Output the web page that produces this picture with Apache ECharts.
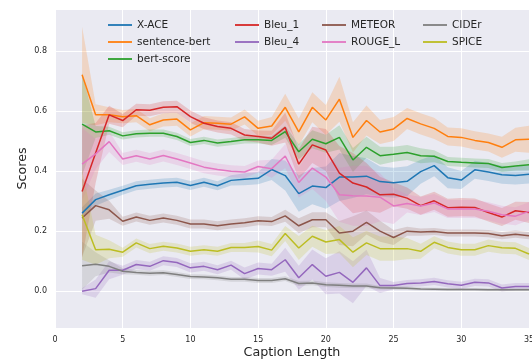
<!DOCTYPE html>
<html>
<head>
<meta charset="utf-8">
<script src="https://cdn.jsdelivr.net/npm/echarts@6/dist/echarts.min.js"></script>
<style>html,body{margin:0;padding:0;background:#fff}#c{width:532px;height:360px}</style>
</head>
<body>
<div id="c"></div>
<script>
var xs = [2,3,4,5,6,7,8,9,10,11,12,13,14,15,16,17,18,19,20,21,22,23,24,25,26,27,28,29,30,31,32,33,34,35];
var xTicks = [0,5,10,15,20,25,30,35];
var yTicks = [0.0,0.2,0.4,0.6,0.8];

var xace   = [0.26,0.305,0.321,0.336,0.351,0.356,0.36,0.363,0.352,0.363,0.351,0.369,0.373,0.376,0.405,0.385,0.325,0.35,0.345,0.38,0.38,0.383,0.365,0.361,0.366,0.398,0.418,0.378,0.37,0.404,0.397,0.388,0.385,0.389];
var sbert  = [0.72,0.587,0.587,0.581,0.584,0.554,0.57,0.573,0.537,0.561,0.559,0.556,0.58,0.542,0.55,0.612,0.53,0.612,0.57,0.639,0.512,0.568,0.53,0.54,0.575,0.557,0.542,0.515,0.512,0.502,0.495,0.479,0.504,0.506];
var bert   = [0.556,0.53,0.534,0.517,0.524,0.526,0.526,0.515,0.495,0.502,0.493,0.498,0.504,0.504,0.502,0.531,0.464,0.506,0.491,0.512,0.437,0.479,0.451,0.456,0.462,0.451,0.449,0.432,0.429,0.427,0.425,0.412,0.417,0.421];
var bleu1  = [0.332,0.46,0.587,0.568,0.604,0.602,0.612,0.614,0.581,0.559,0.548,0.542,0.52,0.515,0.509,0.545,0.423,0.487,0.47,0.393,0.36,0.347,0.321,0.323,0.31,0.285,0.301,0.278,0.28,0.279,0.262,0.247,0.268,0.262];
var bleu4  = [0.0,0.009,0.07,0.07,0.089,0.083,0.102,0.096,0.078,0.083,0.072,0.087,0.059,0.076,0.072,0.105,0.045,0.089,0.05,0.063,0.03,0.078,0.019,0.019,0.026,0.028,0.033,0.025,0.02,0.03,0.028,0.011,0.016,0.016];
var meteor = [0.244,0.285,0.271,0.233,0.247,0.236,0.244,0.236,0.224,0.224,0.218,0.224,0.228,0.235,0.232,0.251,0.218,0.238,0.238,0.194,0.2,0.229,0.2,0.179,0.2,0.197,0.199,0.194,0.194,0.194,0.192,0.185,0.19,0.185];
var rouge  = [0.423,0.457,0.498,0.44,0.451,0.44,0.452,0.44,0.427,0.413,0.405,0.399,0.397,0.415,0.408,0.45,0.362,0.41,0.38,0.321,0.318,0.317,0.313,0.284,0.292,0.284,0.294,0.274,0.274,0.274,0.266,0.255,0.25,0.266];
var cider  = [0.085,0.09,0.083,0.067,0.063,0.06,0.062,0.056,0.049,0.048,0.045,0.04,0.04,0.036,0.036,0.042,0.026,0.028,0.022,0.02,0.018,0.018,0.012,0.011,0.01,0.008,0.007,0.006,0.006,0.006,0.005,0.005,0.005,0.005];
var spice  = [0.255,0.138,0.14,0.13,0.161,0.142,0.15,0.144,0.133,0.138,0.133,0.146,0.146,0.149,0.137,0.192,0.144,0.183,0.164,0.172,0.13,0.161,0.142,0.142,0.142,0.133,0.163,0.146,0.138,0.138,0.152,0.145,0.143,0.124];

// confidence band half-widths
var xaceCI   = [0.02,0.02,0.017,0.015,0.015,0.015,0.015,0.015,0.015,0.015,0.015,0.017,0.02,0.02,0.035,0.05,0.06,0.06,0.07,0.08,0.07,0.06,0.05,0.05,0.05,0.04,0.035,0.035,0.03,0.03,0.03,0.03,0.03,0.03];
var sbertCI  = [0.16,0.035,0.025,0.022,0.022,0.022,0.022,0.022,0.022,0.022,0.022,0.022,0.025,0.025,0.03,0.045,0.045,0.05,0.05,0.075,0.05,0.05,0.04,0.04,0.035,0.035,0.035,0.03,0.03,0.03,0.03,0.035,0.04,0.045];
var bertCI   = [0.17,0.02,0.013,0.012,0.012,0.012,0.012,0.012,0.012,0.012,0.012,0.012,0.012,0.012,0.015,0.02,0.025,0.03,0.03,0.04,0.04,0.035,0.03,0.025,0.025,0.025,0.02,0.015,0.015,0.015,0.015,0.015,0.015,0.018];
var bleu1CI  = [0.22,0.1,0.03,0.022,0.02,0.02,0.02,0.02,0.02,0.02,0.02,0.02,0.02,0.02,0.025,0.05,0.05,0.06,0.07,0.09,0.1,0.08,0.06,0.04,0.035,0.03,0.03,0.03,0.03,0.03,0.03,0.03,0.03,0.035];
var bleu4CI  = [0.01,0.03,0.03,0.015,0.015,0.015,0.015,0.015,0.015,0.015,0.015,0.015,0.02,0.02,0.02,0.04,0.04,0.05,0.06,0.07,0.07,0.06,0.025,0.012,0.012,0.012,0.012,0.012,0.012,0.012,0.012,0.012,0.012,0.012];
var meteorCI = [0.13,0.05,0.03,0.015,0.015,0.015,0.015,0.015,0.015,0.015,0.015,0.015,0.015,0.015,0.015,0.02,0.025,0.025,0.025,0.04,0.05,0.04,0.035,0.025,0.015,0.012,0.012,0.012,0.012,0.012,0.012,0.012,0.012,0.012];
var rougeCI  = [0.12,0.05,0.035,0.02,0.02,0.02,0.02,0.02,0.02,0.02,0.02,0.02,0.02,0.02,0.03,0.04,0.05,0.07,0.08,0.09,0.1,0.1,0.08,0.06,0.03,0.03,0.03,0.03,0.03,0.03,0.03,0.03,0.03,0.03];
var ciderCI  = [0.08,0.04,0.02,0.01,0.008,0.008,0.008,0.008,0.008,0.008,0.008,0.008,0.008,0.008,0.008,0.008,0.008,0.008,0.008,0.008,0.008,0.008,0.006,0.006,0.006,0.005,0.005,0.005,0.005,0.005,0.005,0.005,0.005,0.005];
var spiceCI  = [0.15,0.05,0.03,0.015,0.015,0.015,0.015,0.015,0.015,0.015,0.015,0.015,0.015,0.02,0.02,0.025,0.04,0.035,0.04,0.045,0.05,0.04,0.04,0.04,0.035,0.025,0.02,0.02,0.02,0.02,0.02,0.02,0.02,0.02];

var seriesDefs = [
  {name:'X-ACE', v:xace, ci:xaceCI, color:'#1f77b4'},
  {name:'sentence-bert', v:sbert, ci:sbertCI, color:'#ff7f0e'},
  {name:'bert-score', v:bert, ci:bertCI, color:'#2ca02c'},
  {name:'Bleu_1', v:bleu1, ci:bleu1CI, color:'#d62728'},
  {name:'Bleu_4', v:bleu4, ci:bleu4CI, color:'#9467bd'},
  {name:'METEOR', v:meteor, ci:meteorCI, color:'#8c564b'},
  {name:'ROUGE_L', v:rouge, ci:rougeCI, color:'#e377c2'},
  {name:'CIDEr', v:cider, ci:ciderCI, color:'#7f7f7f'},
  {name:'SPICE', v:spice, ci:spiceCI, color:'#bcbd22'}
];

var FONT = 'DejaVu Sans';
var TXT = '#262626';
var series = [];
seriesDefs.forEach(function(d){
  var rows = xs.map(function(x,j){ return [x, d.v[j]-d.ci[j], d.v[j]+d.ci[j]]; });
  series.push({
    type:'custom', silent:true, z:1,
    data: rows,
    encode:{x:0, y:[1,2]},
    renderItem:function(params, api){
      if (params.dataIndex !== 0) return null;
      var top = [], bot = [];
      for (var j=0;j<rows.length;j++){
        top.push(api.coord([rows[j][0], rows[j][2]]));
        bot.push(api.coord([rows[j][0], rows[j][1]]));
      }
      var pts = top.concat(bot.reverse());
      return {type:'polygon', shape:{points:pts}, style:{fill:d.color, opacity:0.2}};
    }
  });
});
seriesDefs.forEach(function(d){
  series.push({
    name:d.name, type:'line', symbol:'none', z:3, color:d.color,
    lineStyle:{width:1.5, color:d.color},
    data: xs.map(function(x,j){return [x, d.v[j]];})
  });
});

function legendAt(left, names){
  return {
    orient:'vertical', left:left, top:13, itemWidth:24, itemHeight:1.8, itemGap:3, icon:'rect',
    data:names, textStyle:{fontFamily:FONT, fontSize:10.5, color:TXT, lineHeight:14}
  };
}

var chart = echarts.init(document.getElementById('c'), null, {renderer:'canvas'});
chart.setOption({
  animation:false,
  backgroundColor:'#ffffff',
  grid:{left:55, right:3, top:9, bottom:32, show:true, backgroundColor:'#EAEAF2', borderWidth:0,
        containLabel:false, outerBoundsMode:'none'},
  legend:[
    legendAt(103, ['X-ACE','sentence-bert','bert-score']),
    legendAt(230, ['Bleu_1','Bleu_4']),
    legendAt(317, ['METEOR','ROUGE_L']),
    legendAt(418, ['CIDEr','SPICE'])
  ],
  xAxis:{
    type:'value', min:0, max:35, interval:5,
    name:'Caption Length', nameLocation:'middle', nameGap:18, nameMoveOverlap:false,
    nameTextStyle:{fontFamily:FONT, fontSize:12.7, color:TXT},
    axisLine:{show:false}, axisTick:{show:false},
    axisLabel:{fontFamily:FONT, fontSize:8, color:TXT, margin:8,
      formatter:function(v){return xTicks.indexOf(v)>=0 ? String(v) : '';}},
    splitLine:{show:true, lineStyle:{color:'#ffffff', width:1}}
  },
  yAxis:{
    type:'value', min:-0.122, max:0.939, splitNumber:5,
    name:'Scores', nameLocation:'middle', nameGap:26, nameMoveOverlap:false,
    nameTextStyle:{fontFamily:FONT, fontSize:12.7, color:TXT},
    axisLine:{show:false}, axisTick:{show:false},
    axisLabel:{fontFamily:FONT, fontSize:8, color:TXT, margin:8, showMinLabel:false, showMaxLabel:false,
      formatter:function(v){
        for (var k=0;k<yTicks.length;k++){ if (Math.abs(v-yTicks[k])<1e-6) return yTicks[k].toFixed(1); }
        return '';
      }},
    splitLine:{show:true, lineStyle:{color:'#ffffff', width:1}}
  },
  series:series
});
</script>
</body>
</html>
